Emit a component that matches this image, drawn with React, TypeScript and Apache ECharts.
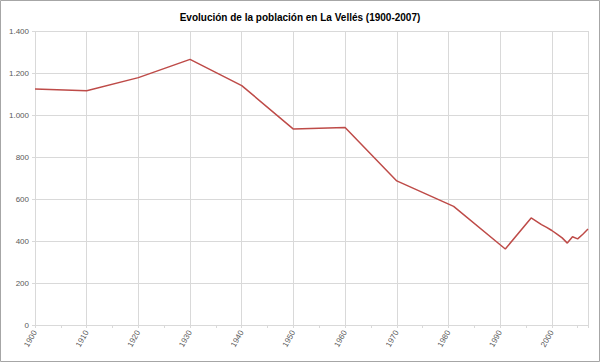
import React, { useEffect, useRef } from "react";
import * as echarts from "echarts";

const TITLE = "Evolución de la población en La Vellés (1900-2007)";
const years = [1900, 1910, 1920, 1930, 1940, 1950, 1960, 1970, 1981, 1991, 1996, 1998, 1999, 2000, 2001, 2002, 2003, 2004, 2005, 2006, 2007];
const population = [1124, 1115, 1178, 1265, 1140, 933, 940, 686, 565, 362, 510, 478, 465, 450, 433, 415, 390, 420, 410, 432, 457];

const fmtThousands = (v: number) => String(v).replace(/\B(?=(\d{3})+(?!\d))/g, ".");

export default function App() {
  const ref = useRef<HTMLDivElement>(null);
  useEffect(() => {
    document.body.style.margin = "0";
    const chart = echarts.init(ref.current!, null, { renderer: "svg" });
    const font = "'Liberation Sans', Arial, sans-serif";
    chart.setOption({
      animation: false,
      backgroundColor: "#ffffff",
      textStyle: { fontFamily: font },
      title: {
        text: TITLE,
        left: "center",
        top: 7,
        textStyle: { fontSize: 10, fontWeight: "bold", color: "#000000", fontFamily: font },
      },
      grid: { left: 35, right: 12, top: 31, bottom: 37, containLabel: false },
      xAxis: {
        type: "value",
        min: 1900,
        max: 2007,
        interval: 10,
        axisLine: { show: true, lineStyle: { color: "#d9d9d9", width: 1 } },
        axisTick: { show: true, length: 3, lineStyle: { color: "#d9d9d9" } },
        minorTick: { show: true, splitNumber: 2, length: 3, lineStyle: { color: "#d9d9d9" } },
        splitLine: { show: true, lineStyle: { color: "#d9d9d9", width: 1 } },
        axisLabel: {
          rotate: 60,
          fontSize: 8,
          color: "#595959",
          margin: 6,
          showMaxLabel: false,
          formatter: (v: number) => String(v),
        },
      },
      yAxis: {
        type: "value",
        min: 0,
        max: 1400,
        interval: 200,
        axisLine: { show: false },
        axisTick: { show: true, length: 3, lineStyle: { color: "#d9d9d9" } },
        splitLine: { show: true, lineStyle: { color: "#d9d9d9", width: 1 } },
        axisLabel: { fontSize: 8, color: "#595959", margin: 6, formatter: (v: number) => fmtThousands(v) },
      },
      series: [
        {
          type: "line",
          data: years.map((y, i) => [y, population[i]]),
          showSymbol: false,
          symbol: "none",
          lineStyle: { color: "#be4b48", width: 1.5 },
          itemStyle: { color: "#be4b48" },
        },
      ],
      graphic: [
        {
          type: "rect",
          shape: { x: 0.5, y: 0.5, width: 599, height: 361 },
          style: { fill: "none", stroke: "#a6a6a6", lineWidth: 1 },
          silent: true,
        },
      ],
    });
    return () => chart.dispose();
  }, []);
  return <div ref={ref} style={{ width: 600, height: 362, position: "absolute", left: 0, top: 0 }} />;
}
